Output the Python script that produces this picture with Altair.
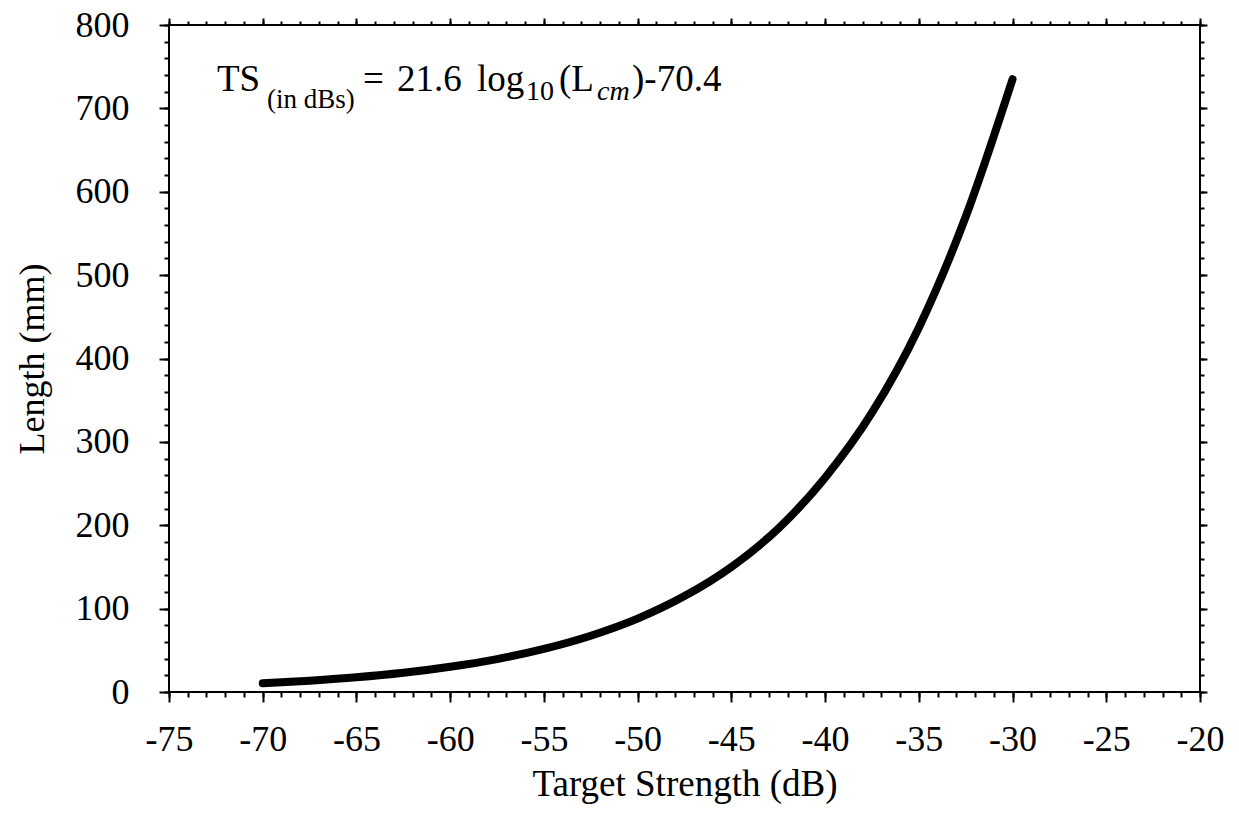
import altair as alt
import pandas as pd

# Data
ts_db = [-70, -67.5, -65, -62.5, -60, -57.5, -55, -52.5, -50, -47.5, -45,
         -42.5, -40, -37.5, -35, -32.5, -30]
length_mm = [10.4, 13.6, 17.6, 23.0, 30.3, 39.5, 51.7, 67.5, 88, 115, 150,
             196, 257, 335, 437, 570, 735]

x_major = list(range(-75, -19, 5))
x_minor = list(range(-75, -19, 1))
y_major = list(range(0, 801, 100))
y_minor = list(range(0, 801, 20))

df = pd.DataFrame({"ts": ts_db, "len": length_mm})

FONT = "Liberation Serif"
W, H = 1031, 667

xs = alt.Scale(domain=[-75, -20], nice=False, zero=False)
ys = alt.Scale(domain=[0, 800], nice=False)

common_axis = dict(domain=False, grid=False, tickColor="black", tickWidth=2,
                   labelFont=FONT, titleFont=FONT, labelColor="black",
                   titleColor="black")

LBL = "toString(datum.value)"

# main curve with bottom / left labelled axes
main = alt.Chart(df).mark_line(color="black", strokeWidth=8, strokeCap="round",
                               interpolate="monotone").encode(
    x=alt.X("ts:Q", scale=xs, axis=alt.Axis(
        orient="bottom", values=x_major, tickSize=10, labelFontSize=36,
        labelPadding=20, labelExpr=LBL, labelFlush=False, labelOverlap=False,
        title="Target Strength (dB)",
        titleFontSize=37, titleFontWeight="normal", titleX=W / 2, titleY=103,
        titleBaseline="alphabetic", **common_axis)),
    y=alt.Y("len:Q", scale=ys, axis=alt.Axis(
        orient="left", values=y_major, tickSize=10, labelFontSize=36,
        labelPadding=30, labelExpr=LBL, labelFlush=False, labelOverlap=False,
        title="Length (mm)", titleFontSize=36,
        titleFontWeight="normal", titleX=-137, titleY=H / 2,
        titleBaseline="middle", titleAngle=-90, **common_axis)),
)


def tick_layer(xo, xv, xsize, yo, yv, ysize):
    return alt.Chart(df).mark_line(strokeOpacity=0).encode(
        x=alt.X("ts:Q", scale=xs, axis=alt.Axis(
            orient=xo, values=xv, tickSize=xsize, labels=False, title=None,
            **common_axis)),
        y=alt.Y("len:Q", scale=ys, axis=alt.Axis(
            orient=yo, values=yv, tickSize=ysize, labels=False, title=None,
            **common_axis)),
    )


minor_bl = tick_layer("bottom", x_minor, 5, "left", y_minor, 5)
major_tr = tick_layer("top", x_major, 7, "right", y_major, 7)
minor_tr = tick_layer("top", x_minor, 4, "right", y_minor, 4)

# formula annotation pieces: text, x, y (plot-area pixels), size, style
pieces = [
    ("TS", 48, 66, 37, "normal"),
    ("(in dBs)", 98, 83, 27, "normal"),
    ("=", 194, 66, 37, "normal"),
    ("21.6", 228, 66, 37, "normal"),
    ("log", 308, 66, 37, "normal"),
    ("10", 357, 75, 28, "normal"),
    ("(L", 390, 66, 37, "normal"),
    ("cm", 428, 75, 28, "italic"),
    (")-70.4", 463, 66, 37, "normal"),
]
texts = []
for t, px, py, fs, st in pieces:
    texts.append(
        alt.Chart(df.head(1)).mark_text(
            text=t, font=FONT, fontSize=fs, fontStyle=st, color="black",
            align="left", baseline="alphabetic").encode(
            x=alt.value(px), y=alt.value(py)))

chart = alt.layer(main, minor_bl, major_tr, minor_tr, *texts).resolve_scale(
    x="independent", y="independent").resolve_axis(
    x="independent", y="independent").properties(
    width=W, height=H, autosize=alt.AutoSizeParams(type="none"),
    padding={"left": 169, "top": 25, "right": 39, "bottom": 138},
    background="white",
).configure_view(stroke="black", strokeWidth=2)

chart.save("out.html", embed_options={"renderer": "svg", "actions": False})
